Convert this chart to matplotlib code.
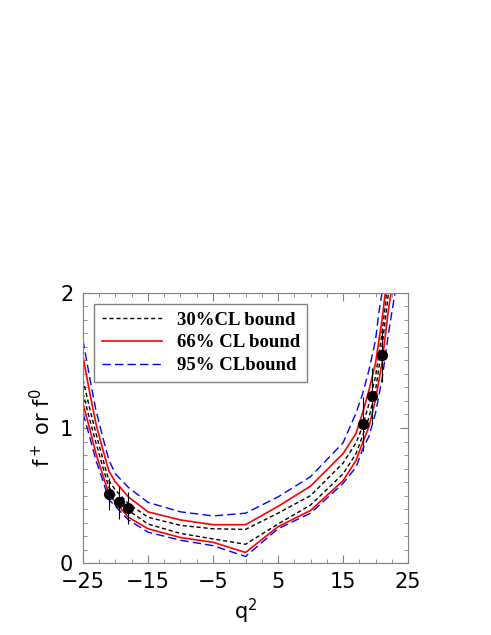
import numpy as np
import matplotlib.pyplot as plt
from matplotlib.ticker import MultipleLocator

# bound curves
q2 = [-25, -24, -23, -22, -21, -20, -18, -15, -10, -5, 0, 5, 10, 15, 17, 18, 19, 20]
blue_up = [1.65, 1.38, 1.13, 0.94, 0.76, 0.66, 0.56, 0.45, 0.38, 0.35, 0.37, 0.49, 0.64, 0.89, 1.11, 1.25, 1.43, 1.65]
red_up = [1.53, 1.27, 1.03, 0.85, 0.68, 0.60, 0.49, 0.38, 0.32, 0.285, 0.285, 0.42, 0.57, 0.81, 0.96, 1.11, 1.28, 1.48]
blk_up = [1.36, 1.15, 0.96, 0.78, 0.61, 0.54, 0.44, 0.34, 0.28, 0.255, 0.25, 0.37, 0.50, 0.74, 0.89, 1.01, 1.18, 1.38]
blk_lo = [1.26, 1.07, 0.89, 0.72, 0.56, 0.50, 0.39, 0.29, 0.22, 0.18, 0.14, 0.29, 0.43, 0.66, 0.81, 0.94, 1.08, 1.28]
red_lo = [1.18, 1.00, 0.81, 0.66, 0.51, 0.45, 0.34, 0.255, 0.19, 0.155, 0.08, 0.27, 0.39, 0.61, 0.76, 0.89, 1.01, 1.21]
blue_lo = [1.11, 0.94, 0.76, 0.62, 0.47, 0.42, 0.32, 0.23, 0.17, 0.13, 0.05, 0.255, 0.37, 0.59, 0.71, 0.84, 0.94, 1.11]
# extra points near the top right, then where each curve leaves the frame
tail_x = {'blue_up': [20.5, 21.0], 'red_up': [21.0, 21.5], 'blk_up': [21.0, 21.7],
          'blk_lo': [21.0, 22.0], 'red_lo': [21.0, 22.0, 22.4], 'blue_lo': [21.0, 22.0, 23.0]}
tail_y = {'blue_up': [1.85, 2.0], 'red_up': [1.80, 2.0], 'blk_up': [1.70, 2.0],
          'blk_lo': [1.60, 2.0], 'red_lo': [1.48, 1.88, 2.0], 'blue_lo': [1.36, 1.70, 2.0]}

pts_x = [-21, -19.5, -18, 18, 19.5, 21]
pts_y = [0.51, 0.45, 0.41, 1.03, 1.24, 1.54]
pts_err = [0.12, 0.12, 0.12, 0.2, 0.2, 0.2]

fig = plt.figure(figsize=(4.91, 6.35), dpi=100)
ax = fig.add_axes([0.169, 0.113, 0.662, 0.426])

def curve(y, key):
    return q2 + tail_x[key], y + tail_y[key]

x, y = curve(blk_up, 'blk_up')
ax.plot(x, y, color='black', ls=(0, (3, 2)), lw=1, label='30%CL bound')
x, y = curve(blk_lo, 'blk_lo')
ax.plot(x, y, color='black', ls=(0, (3, 2)), lw=1)
x, y = curve(red_up, 'red_up')
ax.plot(x, y, color='red', lw=1.2, label='66% CL bound')
x, y = curve(red_lo, 'red_lo')
ax.plot(x, y, color='red', lw=1.2)
x, y = curve(blue_up, 'blue_up')
ax.plot(x, y, color='blue', ls=(0, (6, 3)), lw=1, label='95% CLbound')
x, y = curve(blue_lo, 'blue_lo')
ax.plot(x, y, color='blue', ls=(0, (6, 3)), lw=1)

ax.errorbar(pts_x, pts_y, yerr=pts_err, fmt='o', color='black', ms=7, elinewidth=0.8, capsize=0)

ax.set_xlim(-25, 25)
ax.set_ylim(0, 2)
ax.set_xticks([-25, -15, -5, 5, 15, 25])
ax.set_yticks([0, 1, 2])
ax.xaxis.set_minor_locator(MultipleLocator(2.5))
ax.yaxis.set_minor_locator(MultipleLocator(0.1))
ax.tick_params(which='both', direction='in', top=True, right=True, labelsize=15, color='gray')
ax.tick_params(axis='x', pad=6)
ax.tick_params(axis='y', pad=7)
ax.tick_params(which='major', length=6)
ax.tick_params(which='minor', length=3)
for s in ax.spines.values():
    s.set_color('gray')
ax.set_xlabel('q$^2$', fontsize=15)
ax.set_ylabel('f$^+$ or f$^0$', fontsize=15)

leg = ax.legend(loc='upper left', prop={'family': 'Liberation Serif', 'weight': 'bold', 'size': 13.5},
                fancybox=False, edgecolor='gray', framealpha=1, borderaxespad=0.6, handlelength=3.2,
                labelspacing=0.3)

fig.savefig('out.png', dpi=100)
